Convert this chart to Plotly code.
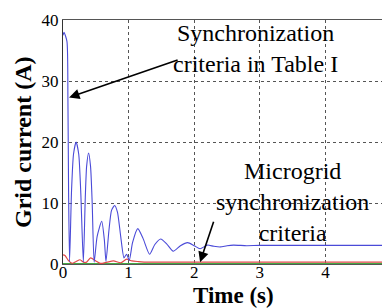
import plotly.graph_objects as go

# Blue: grid current with "Synchronization criteria in Table I"
t_blue = [0, 0.015, 0.06, 0.075, 0.085, 0.10,
          0.13, 0.16, 0.20, 0.24, 0.27, 0.31,
          0.34, 0.36, 0.39, 0.42, 0.445, 0.475,
          0.52, 0.59, 0.63, 0.655,
          0.70, 0.74, 0.787, 0.83, 0.88, 0.93,
          0.97, 1.01,
          1.06, 1.14, 1.22, 1.32,
          1.40, 1.49, 1.58, 1.68, 1.79, 1.90, 2.00, 2.09,
          2.20, 2.30, 2.40, 2.50, 2.60, 2.80, 3.00, 5.00]
i_blue = [37.5, 38.0, 36.5, 27.0, 12.0, 0.4,
          12.0, 18.0, 20.0, 18.0, 12.0, 0.3,
          11.0, 16.0, 18.2, 16.0, 10.0, 0.3,
          4.5, 7.0, 4.0, 0.4,
          5.5, 8.8, 9.6, 8.5, 4.5, 1.0,
          1.6, 0.6,
          3.5, 5.8, 4.2, 1.6,
          3.2, 4.1, 3.3, 2.1, 3.0, 3.5, 3.0, 2.5,
          3.1, 2.9, 2.8, 3.0, 3.1, 3.0, 3.05, 3.05]

# Red: grid current with microgrid synchronization criteria
t_red = [0, 0.03, 0.08, 0.14, 0.20, 0.26, 0.31, 0.36, 0.42, 0.50, 0.57,
         0.67, 0.77, 0.88, 0.97, 1.05, 1.15, 1.30, 5.00]
i_red = [1.5, 1.4, 0.6, 0.1, 0.4, 0.7, 0.3, 0.3, 1.0, 0.5, 0.1,
         0.3, 0.5, 0.2, 0.8, 0.5, 0.4, 0.3, 0.3]

# Green baseline
t_green = [0, 5]
i_green = [0, 0]

x_ticks = [0, 1, 2, 3, 4, 5]
y_ticks = [0, 10, 20, 30, 40]

fig = go.Figure()
fig.add_trace(go.Scatter(x=t_green, y=i_green, mode="lines",
                         line=dict(color="#44aa44", width=2), showlegend=False))
fig.add_trace(go.Scatter(x=t_red, y=i_red, mode="lines",
                         line=dict(color="#e04848", width=1.2, shape="spline", smoothing=0.6),
                         showlegend=False))
fig.add_trace(go.Scatter(x=t_blue, y=i_blue, mode="lines",
                         line=dict(color="#4a4ad8", width=1.1, shape="spline", smoothing=0.6),
                         showlegend=False))

serif = "Times New Roman, Liberation Serif, DejaVu Serif, serif"

fig.add_annotation(x=0.093, y=27.3, xref="x", yref="y",
                   ax=110, ay=-38, text="", showarrow=True, arrowhead=2, arrowsize=1.3,
                   arrowwidth=1.6, arrowcolor="black")
fig.add_annotation(x=2.94, y=35.3, xref="x", yref="y",
                   text="Synchronization<br>criteria in Table I", showarrow=False,
                   font=dict(family=serif, size=24, color="black"))
fig.add_annotation(x=2.09, y=0.3, xref="x", yref="y",
                   ax=14, ay=-42, text="", showarrow=True, arrowhead=2,
                   arrowsize=1.3, arrowwidth=1.6, arrowcolor="black")
fig.add_annotation(x=3.5, y=10.2, xref="x", yref="y",
                   text="Microgrid<br>synchronization<br>criteria", showarrow=False,
                   font=dict(family=serif, size=24, color="black"))

# Axis titles
fig.add_annotation(x=0.52, y=0, xref="paper", yref="paper", yshift=-31,
                   text="<b>Time (s)</b>", showarrow=False, yanchor="middle",
                   borderpad=0,
                   font=dict(family=serif, size=23, color="black"))
fig.add_annotation(x=0, y=0.50, xref="paper", yref="paper", xshift=-40,
                   text="<b>Grid current (A)</b>", showarrow=False, textangle=-90,
                   xanchor="center", yanchor="middle",
                   font=dict(family=serif, size=24, color="black"))

fig.update_layout(
    width=390, height=308,
    margin=dict(l=55, r=3, t=9, b=52),
    paper_bgcolor="white", plot_bgcolor="white",
    font=dict(family=serif, size=17, color="black"),
    showlegend=False,
)
fig.update_xaxes(range=[0, 5], tickvals=x_ticks, ticktext=[str(v) for v in x_ticks],
                 showgrid=True, gridcolor="#555", griddash="dot", gridwidth=1,
                 showline=True, linecolor="#555", linewidth=1, mirror=True,
                 ticks="", zeroline=False, ticklabeloverflow="allow",
                 ticklabelstandoff=-7,
                 tickfont=dict(family=serif, size=17, color="black"))
fig.update_yaxes(range=[0, 40], tickvals=y_ticks, ticktext=[str(v) for v in y_ticks],
                 showgrid=True, gridcolor="#555", griddash="dot", gridwidth=1,
                 showline=True, linecolor="#333", linewidth=1, mirror=True,
                 ticks="", zeroline=False, ticklabeloverflow="allow",
                 tickfont=dict(family=serif, size=17, color="black"))

fig.write_html("out.html")
